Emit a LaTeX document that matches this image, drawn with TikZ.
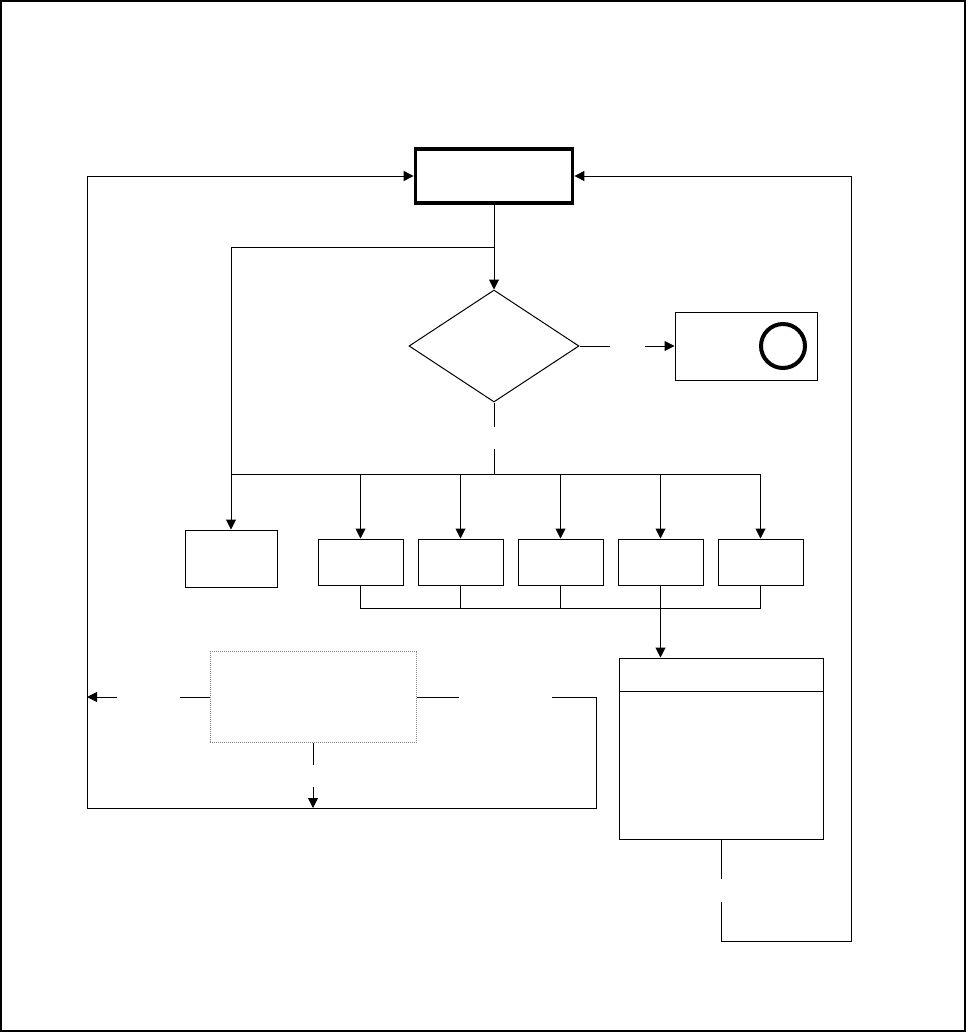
\documentclass[tikz,border=0pt]{standalone}
\usetikzlibrary{positioning,arrows.meta,shapes.geometric}

\begin{document}
\begin{tikzpicture}[x=1pt,y=-1pt,line width=1pt,
  box/.style={draw, rectangle, inner sep=0pt, minimum width=85pt, minimum height=46pt},
  arr/.style={-{Triangle[length=10pt,width=10pt]}}]

%%% 枠
\useasboundingbox (0,0) rectangle (966,1033);
\draw[line width=1.5pt] (1,1) rectangle (965,1031);

%% 上段
\node[box, line width=3.8pt, minimum width=157pt, minimum height=54pt] (start) at (494,176) {};
\node[draw, diamond, inner sep=0pt, minimum width=170pt, minimum height=112pt] (check) at (494,346) {};
\node[box, minimum width=142pt, minimum height=68pt] (result) at (746,346) {};
\node[draw, circle, line width=4pt, minimum size=44pt, inner sep=0pt] (ring) at (783,346) {};

%% 中段
\node[box, minimum width=92pt, minimum height=57pt] (side) at (231,558.5) {};
\foreach \i in {1,...,5}
  \node[box] (opt\i) at (260.5+100*\i,562) {};

%% 下段
\node[box, minimum width=204pt, minimum height=181pt] (table) at (721,748.5) {};
\draw ([yshift=-34pt]table.north west) -- ([yshift=-34pt]table.north east);
\node[draw=black!50, dash pattern=on 1pt off 1pt, inner sep=0pt,
      minimum width=206pt, minimum height=91pt] (note) at (313,697) {};

%% 点
\coordinate (split) at (494,247);
\coordinate (busL) at (231,474);
\coordinate (busR) at (760,474);
\coordinate (busM) at (494,449);
\coordinate (joinL) at (360.5,608);
\coordinate (yesA) at (610,346);
\coordinate (yesB) at (645,346);
\coordinate (backA) at (721,879);
\coordinate (backB) at (721,902);
\coordinate (backC) at (851,941);
\coordinate (leftA) at (180,697);
\coordinate (leftB) at (117,697);
\coordinate (leftC) at (87,697);
\coordinate (rightA) at (459,697);
\coordinate (rightB) at (552,697);
\coordinate (downA) at (313,765);
\coordinate (downB) at (313,787);
\coordinate (floorR) at (596,808);
\coordinate (floorL) at (87,808);

%% 線
\draw[arr] (start.south) -- (check.north);
\draw[arr] (split) -| (side.north);
\draw (check.south) -- (check.south |- 0,427);
\draw (busM) -- (busM |- busL);
\draw (busL) -- (busR);
\foreach \i in {1,...,5}
  \draw[arr] (opt\i.north |- busL) -- (opt\i.north);

\draw (opt1.south) -- (opt1.south |- joinL) -- (opt5.south |- joinL) -- (opt5.south);
\foreach \i in {2,3,4}
  \draw (opt\i.south) -- (opt\i.south |- joinL);
\draw[arr] (opt4.south |- joinL) -- (opt4.south |- table.north);

\draw (check.east) -- (yesA);
\draw[arr] (yesB) -- (result.west);

\draw (table.south) -- (backA);
\draw[arr] (backB) -- (backB |- backC) -- (backC) |- (start.east);

\draw (note.west) -- (leftA);
\draw[arr] (leftB) -- (leftC);
\draw (note.east) -- (rightA);
\draw[arr] (rightB) -- (floorR |- rightB) -- (floorR) -- (floorL) |- (start.west);
\draw (note.south) -- (downA);
\draw[arr] (downB) -- (floorL -| downB);

\end{tikzpicture}
\end{document}
